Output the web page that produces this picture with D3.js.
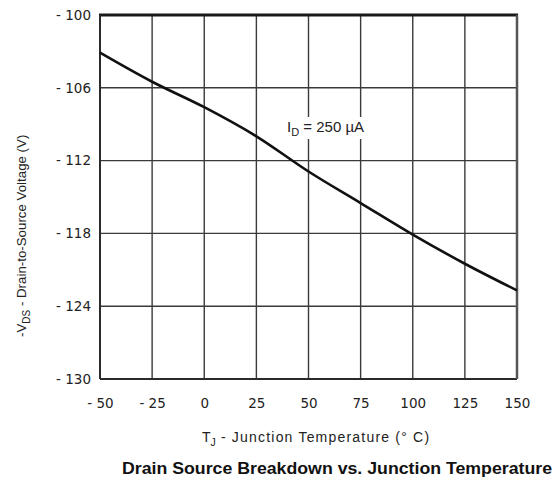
<!DOCTYPE html>
<html>
<head>
<meta charset="utf-8">
<script src="https://cdn.jsdelivr.net/npm/d3@7"></script>
<style>
  html, body { margin: 0; padding: 0; background: #fff; }
  svg { display: block; font-family: "Liberation Sans", Arial, sans-serif; }
</style>
</head>
<body>
<svg id="chart" width="560" height="484"></svg>
<script>
// Junction temperature (°C) and the breakdown voltage -V_DS (V)
const temperatures = [-50, -25, 0, 25, 50, 75, 100, 125, 150];
const breakdownVoltage = [-103.1, -105.5, -107.6, -110.0, -112.9, -115.5, -118.1, -120.5, -122.7];

const xTicks = [-50, -25, 0, 25, 50, 75, 100, 125, 150];
const yTicks = [-100, -106, -112, -118, -124, -130];

const svg = d3.select("#chart");
const plot = { left: 100, right: 517, top: 15, bottom: 379 };

const x = d3.scaleLinear().domain([-50, 150]).range([plot.left, plot.right]);
const y = d3.scaleLinear().domain([-100, -130]).range([plot.top, plot.bottom]);

const fmt = v => (v < 0 ? "- " + Math.abs(v) : String(v));
const tickFont = "DejaVu Sans, Verdana, sans-serif";

// grid
const grid = svg.append("g").attr("stroke", "#3a3a3a").attr("stroke-width", 1.4);
grid.selectAll("line.v").data(xTicks.slice(1, -1)).join("line")
  .attr("x1", d => x(d)).attr("x2", d => x(d))
  .attr("y1", plot.top).attr("y2", plot.bottom);
grid.selectAll("line.h").data(yTicks.slice(1, -1)).join("line")
  .attr("x1", plot.left).attr("x2", plot.right)
  .attr("y1", d => y(d)).attr("y2", d => y(d));

// axes with labels only (frame drawn separately)
const xAxis = svg.append("g")
  .attr("transform", `translate(0,${plot.bottom})`)
  .call(d3.axisBottom(x).tickValues(xTicks).tickFormat(fmt).tickSize(0).tickPadding(19));
xAxis.select(".domain").remove();
xAxis.selectAll("text").attr("font-size", 13.5).attr("fill", "#222")
  .attr("font-family", tickFont);

const yAxis = svg.append("g")
  .attr("transform", `translate(${plot.left},0)`)
  .call(d3.axisLeft(y).tickValues(yTicks).tickFormat(fmt).tickSize(0).tickPadding(9));
yAxis.select(".domain").remove();
yAxis.selectAll("text").attr("font-size", 13.5).attr("fill", "#222")
  .attr("font-family", tickFont);

// frame
svg.append("line").attr("x1", plot.left - 1).attr("x2", plot.right + 1)
  .attr("y1", plot.top).attr("y2", plot.top).attr("stroke", "#1a1a1a").attr("stroke-width", 3);
svg.append("line").attr("x1", plot.left).attr("x2", plot.left)
  .attr("y1", plot.top).attr("y2", plot.bottom).attr("stroke", "#2a2a2a").attr("stroke-width", 2);
svg.append("line").attr("x1", plot.left).attr("x2", plot.right)
  .attr("y1", plot.bottom).attr("y2", plot.bottom).attr("stroke", "#2a2a2a").attr("stroke-width", 2);
svg.append("line").attr("x1", plot.right).attr("x2", plot.right)
  .attr("y1", plot.top).attr("y2", plot.bottom).attr("stroke", "#555").attr("stroke-width", 2.5);

// annotation with a white backing over the grid
const ann = svg.append("g").attr("transform", "translate(287,132)");
ann.append("rect").attr("x", -2).attr("y", -15).attr("width", 90).attr("height", 22).attr("fill", "#fff");
const annText = ann.append("text").attr("font-size", 15).attr("fill", "#222");
annText.append("tspan").text("I");
annText.append("tspan").attr("font-size", 11).attr("dy", 4).text("D");
annText.append("tspan").attr("dy", -4).text(" = 250 µA");

// curve
const line = d3.line().x((d, i) => x(temperatures[i])).y(d => y(d)).curve(d3.curveMonotoneX);
svg.append("path").datum(breakdownVoltage)
  .attr("d", line).attr("fill", "none").attr("stroke", "#111").attr("stroke-width", 2.6);

// axis titles
const yTitle = svg.append("text")
  .attr("transform", "translate(26,337) rotate(-90)")
  .attr("text-anchor", "start").attr("font-size", 13.3).attr("fill", "#222");
yTitle.append("tspan").text("-V");
yTitle.append("tspan").attr("font-size", 10).attr("dy", 4).text("DS");
yTitle.append("tspan").attr("dy", -4).text(" - Drain-to-Source Voltage (V)");

const xTitle = svg.append("text")
  .attr("x", 202).attr("y", 442)
  .attr("text-anchor", "start").attr("font-size", 14).attr("fill", "#222");
xTitle.append("tspan").text("T");
xTitle.append("tspan").attr("font-size", 10.5).attr("dy", 4).text("J");
xTitle.append("tspan").attr("dy", -4).attr("letter-spacing", 1.2).text(" - Junction Temperature (° C)");

svg.append("text")
  .attr("x", 122).attr("y", 474)
  .attr("font-size", 16.5).attr("font-weight", "bold").attr("fill", "#111")
  .attr("textLength", 430).attr("lengthAdjust", "spacingAndGlyphs")
  .text("Drain Source Breakdown vs. Junction Temperature");
</script>
</body>
</html>
